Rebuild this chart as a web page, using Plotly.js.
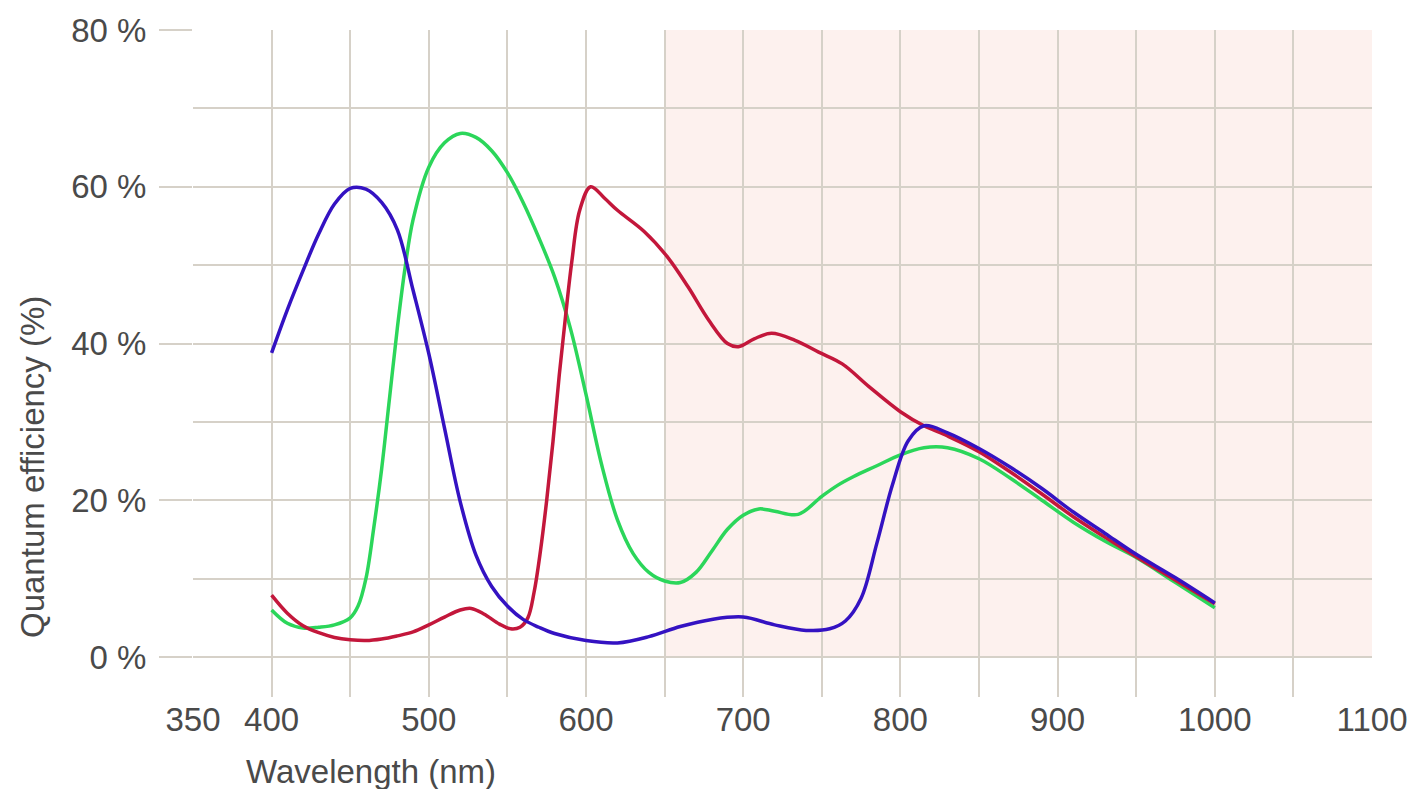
<!DOCTYPE html>
<html>
<head>
<meta charset="utf-8">
<script src="https://cdn.plot.ly/plotly-3.0.1.min.js"></script>
<style>html,body{margin:0;padding:0;background:#fff;}#chart{width:1415px;height:789px;}</style>
</head>
<body>
<div id="chart"></div>
<script>
// Wavelength (nm) and quantum efficiency (%)
const blueX = [400,410,420,430,440,450,460,470,480,490,500,510,520,530,540,550,560,570,580,600,620,640,660,680,700,720,740,755,765,775,785,795,805,815,830,850,870,890,910,930,950,975,1000];
const blueY = [38.8,44.3,49.3,54,57.8,59.8,59.7,58,54.5,46.8,38.7,29.2,19.8,13,9,6.5,4.8,3.8,3,2.1,1.8,2.6,3.9,4.8,5.1,4.1,3.4,3.6,4.6,7.5,14.5,22,27.6,29.5,28.6,26.6,24.2,21.5,18.5,15.8,13.1,10.1,6.9];

const greenX = [400,410,420,430,440,450,455,460,465,470,475,480,485,490,500,510,520,530,540,550,560,570,580,590,600,610,620,630,640,650,660,670,680,690,700,710,720,735,750,760,770,785,800,815,830,850,870,890,910,930,950,975,1000];
const greenY = [6,4.3,3.7,3.8,4.1,5,6.5,10,16.5,24,33,42,49.8,55.8,62.5,65.6,66.8,66.3,64.6,61.8,58,53.5,48.5,42,33.5,24.5,17.5,13.2,10.8,9.7,9.5,10.8,13.5,16.3,18.1,18.9,18.6,18.2,20.5,21.9,23,24.4,25.8,26.7,26.7,25.3,22.8,20,17.2,14.8,12.7,9.5,6.3];

const redX = [400,410,420,430,440,450,460,470,480,490,500,510,520,527,535,545,552,558,563,567,571,575,579,583,587,591,596,603,612,620,637,652,665,678,690,697,707,718,733,748,763,780,800,815,830,850,870,890,910,930,950,975,1000];
const redY = [7.9,5.6,4,3.1,2.5,2.2,2.1,2.3,2.7,3.2,4.1,5.1,6,6.2,5.5,4.2,3.6,3.8,5,8.3,13.5,20,27.5,36,43.5,50.5,57,60,58.5,57,54.3,51,47.2,43,40,39.6,40.6,41.3,40.4,38.9,37.4,34.5,31.3,29.5,28.2,26.2,23.6,20.8,17.9,15.3,12.8,9.8,6.8];

const xTickVals = [350,400,500,600,700,800,900,1000,1100];
const xMinorVals = [450,550,650,750,850,950,1050];
const yTickVals = [0,20,40,60,80];
const yTickText = ['0 %','20 %','40 %','60 %','80 %'];
const yMinorVals = [10,30,50,70];

const gridC = '#d6d1c8';
const textC = '#4a4a4a';
const fnt = 'Liberation Sans, Arial, sans-serif';

const lineStyle = (c) => ({color: c, width: 3.5, shape: 'spline', smoothing: 1});
const traces = [
  {x: greenX, y: greenY, mode: 'lines', line: lineStyle('#2bd65a'), hoverinfo: 'skip'},
  {x: redX, y: redY, mode: 'lines', line: lineStyle('#c3173b'), hoverinfo: 'skip'},
  {x: blueX, y: blueY, mode: 'lines', line: lineStyle('#3412c2'), hoverinfo: 'skip'}
];

const layout = {
  width: 1415, height: 789,
  margin: {l: 193, r: 43, t: 30, b: 92},
  paper_bgcolor: '#ffffff', plot_bgcolor: '#ffffff',
  showlegend: false,
  font: {family: fnt, size: 33, color: textC},
  xaxis: {
    range: [350, 1100], tickmode: 'array', tickvals: xTickVals, ticktext: xTickVals.map(String),
    showgrid: true, gridcolor: gridC, gridwidth: 2, zeroline: false, showline: false, ticks: '',
    tickfont: {family: fnt, size: 33, color: textC},
    minor: {tickmode: 'array', tickvals: xMinorVals, showgrid: true, gridcolor: gridC, gridwidth: 2, ticks: ''}
  },
  yaxis: {
    range: [-5.1, 80], tickmode: 'array', tickvals: yTickVals, ticktext: yTickText,
    showgrid: true, gridcolor: gridC, gridwidth: 2, zeroline: false, showline: false,
    ticks: 'outside', ticklen: 33, tickwidth: 2, tickcolor: gridC, ticklabelstandoff: 6,
    tickfont: {family: fnt, size: 33, color: textC},
    minor: {tickmode: 'array', tickvals: yMinorVals, showgrid: true, gridcolor: gridC, gridwidth: 2, ticks: ''}
  },
  shapes: [
    {type: 'rect', xref: 'x', yref: 'y', x0: 650, x1: 1100, y0: 0, y1: 80, fillcolor: '#fdf1ee', line: {width: 0}, layer: 'below'}
  ],
  annotations: [
    {text: 'Quantum efficiency (%)', xref: 'paper', yref: 'paper', x: (32-193)/1179, y: (697-467)/667,
     xanchor: 'center', yanchor: 'middle', textangle: -90, showarrow: false, font: {family: fnt, size: 33, color: textC}},
    {text: 'Wavelength (nm)', xref: 'paper', yref: 'paper', x: (371-193)/1179, y: (697-772)/667,
     xanchor: 'center', yanchor: 'middle', showarrow: false, font: {family: fnt, size: 33, color: textC}}
  ]
};

Plotly.newPlot('chart', traces, layout, {staticPlot: true, displayModeBar: false});
</script>
</body>
</html>
